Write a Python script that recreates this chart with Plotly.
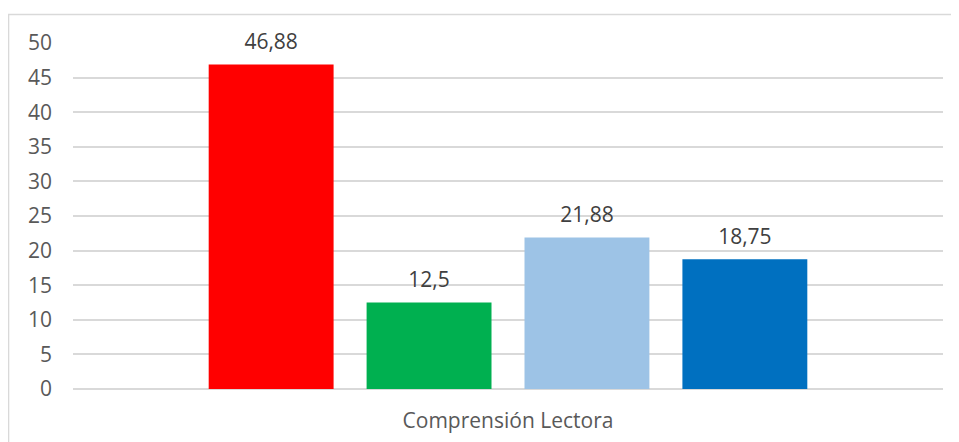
import plotly.graph_objects as go

category = ["Comprensión Lectora"]
series_names = ["Serie 1", "Serie 2", "Serie 3", "Serie 4"]
series_values = [46.88, 12.5, 21.88, 18.75]
series_colors = ["#FF0000", "#00B050", "#9DC3E6", "#0070C0"]
y_ticks = [0, 5, 10, 15, 20, 25, 30, 35, 40, 45, 50]

FONT = "Open Sans, sans-serif"
TEXT_COLOR = "#595959"
LABEL_COLOR = "#404040"
GAP = 0.274

fig = go.Figure()
for name, value, color in zip(series_names, series_values, series_colors):
    fig.add_bar(
        x=category,
        y=[value],
        name=name,
        marker={"color": color, "line": {"width": 0}},
        hoverinfo="skip",
    )

# data labels: invisible markers push the text a little above the bar tops
for name, value in zip(series_names, series_values):
    fig.add_scatter(
        x=category,
        y=[value],
        name=name,
        mode="markers+text",
        marker={"size": 15, "opacity": 0},
        text=[f"{value:g}".replace(".", ",")],
        textposition="top center",
        textfont={"size": 21, "color": LABEL_COLOR, "family": FONT},
        cliponaxis=False,
        showlegend=False,
    )

# chart outline (left and top edges visible, rest cropped)
fig.add_shape(
    type="rect",
    xref="paper",
    yref="paper",
    x0=-0.0741,
    x1=1.2,
    y0=-0.3,
    y1=1.0823,
    line={"color": "#D9D9D9", "width": 1.5},
    layer="below",
)

fig.update_layout(
    width=951,
    height=434,
    barmode="group",
    bargap=GAP,
    bargroupgap=0.209,
    scattermode="group",
    scattergap=GAP,
    showlegend=False,
    plot_bgcolor="white",
    paper_bgcolor="white",
    margin={"l": 65, "r": 16, "t": 35, "b": 53},
    font={"family": FONT, "color": TEXT_COLOR, "size": 21},
    xaxis={
        "showgrid": False,
        "zeroline": False,
        "showline": False,
        "ticks": "",
        "automargin": False,
        "ticklabelstandoff": 17,
        "tickfont": {"size": 21, "color": TEXT_COLOR},
    },
    yaxis={
        "range": [0, 50],
        "tickvals": y_ticks,
        "showgrid": True,
        "gridcolor": "#D9D9D9",
        "gridwidth": 1.5,
        "zeroline": True,
        "zerolinecolor": "#D9D9D9",
        "zerolinewidth": 1.5,
        "showline": False,
        "ticks": "",
        "automargin": False,
        "ticklabelstandoff": 20,
        "tickfont": {"size": 21, "color": TEXT_COLOR},
    },
)

fig.write_html("out.html")
